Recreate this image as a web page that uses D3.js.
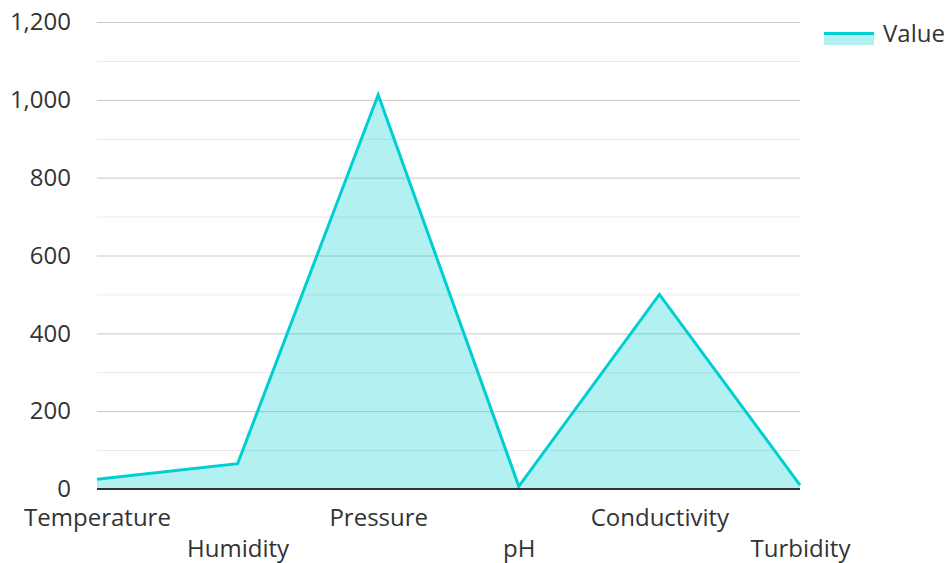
<!DOCTYPE html>
<html>
<head>
<meta charset="utf-8">
<script src="https://cdn.jsdelivr.net/npm/d3@7"></script>
<style>
  html, body { margin: 0; padding: 0; background: #fff; }
  svg { display: block; font-family: "Open Sans", "Noto Sans", sans-serif; }
</style>
</head>
<body>
<svg id="chart" width="949" height="563"></svg>
<script>
// Sensor readings
const categories = ["Temperature", "Humidity", "Pressure", "pH", "Conductivity", "Turbidity"];
const values = [25, 65, 1013, 7, 500, 10];
const majorTicks = [0, 200, 400, 600, 800, 1000, 1200];
const minorTicks = [100, 300, 500, 700, 900, 1100];
const seriesName = "Value";

const svg = d3.select("#chart");
const margin = { left: 97, right: 149, top: 22, bottom: 74 };
const width = 949, height = 563;
const lineColor = "#00ced1";
const textColor = "#333";

const x = d3.scalePoint().domain(categories).range([margin.left, width - margin.right]);
const y = d3.scaleLinear().domain([0, 1200]).range([height - margin.bottom, margin.top]);

// Grid lines
svg.append("g").selectAll("line.minor").data(minorTicks).join("line")
  .attr("x1", margin.left).attr("x2", width - margin.right)
  .attr("y1", d => y(d) + 0.5).attr("y2", d => y(d) + 0.5)
  .attr("stroke", "#e8e8e8").attr("stroke-width", 1);
svg.append("g").selectAll("line.major").data(majorTicks.filter(d => d > 0)).join("line")
  .attr("x1", margin.left).attr("x2", width - margin.right)
  .attr("y1", d => y(d) + 0.5).attr("y2", d => y(d) + 0.5)
  .attr("stroke", "#c8c8c8").attr("stroke-width", 1);

// Y axis labels
const yAxis = d3.axisLeft(y).tickValues(majorTicks).tickSize(0).tickPadding(26)
  .tickFormat(d3.format(","));
const yg = svg.append("g").attr("transform", `translate(${margin.left},0)`).call(yAxis);
yg.select(".domain").remove();
yg.selectAll("text").attr("font-size", 24).attr("fill", textColor)
  .attr("font-family", "'Open Sans', 'Noto Sans', sans-serif");

// Area and line
const pts = categories.map((c, i) => ({ c, v: values[i] }));
const area = d3.area().x(d => x(d.c)).y0(y(0)).y1(d => y(d.v));
const line = d3.line().x(d => x(d.c)).y(d => y(d.v));
svg.append("path").datum(pts).attr("d", area)
  .attr("fill", lineColor).attr("fill-opacity", 0.3);
svg.append("path").datum(pts).attr("d", line)
  .attr("fill", "none").attr("stroke", lineColor).attr("stroke-width", 3)
  .attr("stroke-linejoin", "miter");

// X axis
const xAxis = d3.axisBottom(x).tickSize(0).tickPadding(0);
const xg = svg.append("g").attr("transform", `translate(0,${y(0)})`).call(xAxis);
xg.select(".domain").attr("stroke", "#333").attr("stroke-width", 2)
  .attr("d", `M${margin.left},0H${width - margin.right}`);
xg.selectAll("text")
  .attr("font-size", 24).attr("fill", textColor)
  .attr("font-family", "'Open Sans', 'Noto Sans', sans-serif")
  .attr("dy", null)
  .attr("y", (d, i) => i % 2 === 0 ? 37 : 68);

// Legend
const lg = svg.append("g").attr("transform", "translate(824,32)");
lg.append("rect").attr("x", 0).attr("y", 0).attr("width", 50).attr("height", 13)
  .attr("fill", lineColor).attr("fill-opacity", 0.3);
lg.append("line").attr("x1", 0).attr("x2", 50).attr("y1", 1.5).attr("y2", 1.5)
  .attr("stroke", lineColor).attr("stroke-width", 3);
lg.append("text").attr("x", 59).attr("y", 10).text(seriesName)
  .attr("font-size", 24).attr("fill", textColor);
</script>
</body>
</html>
